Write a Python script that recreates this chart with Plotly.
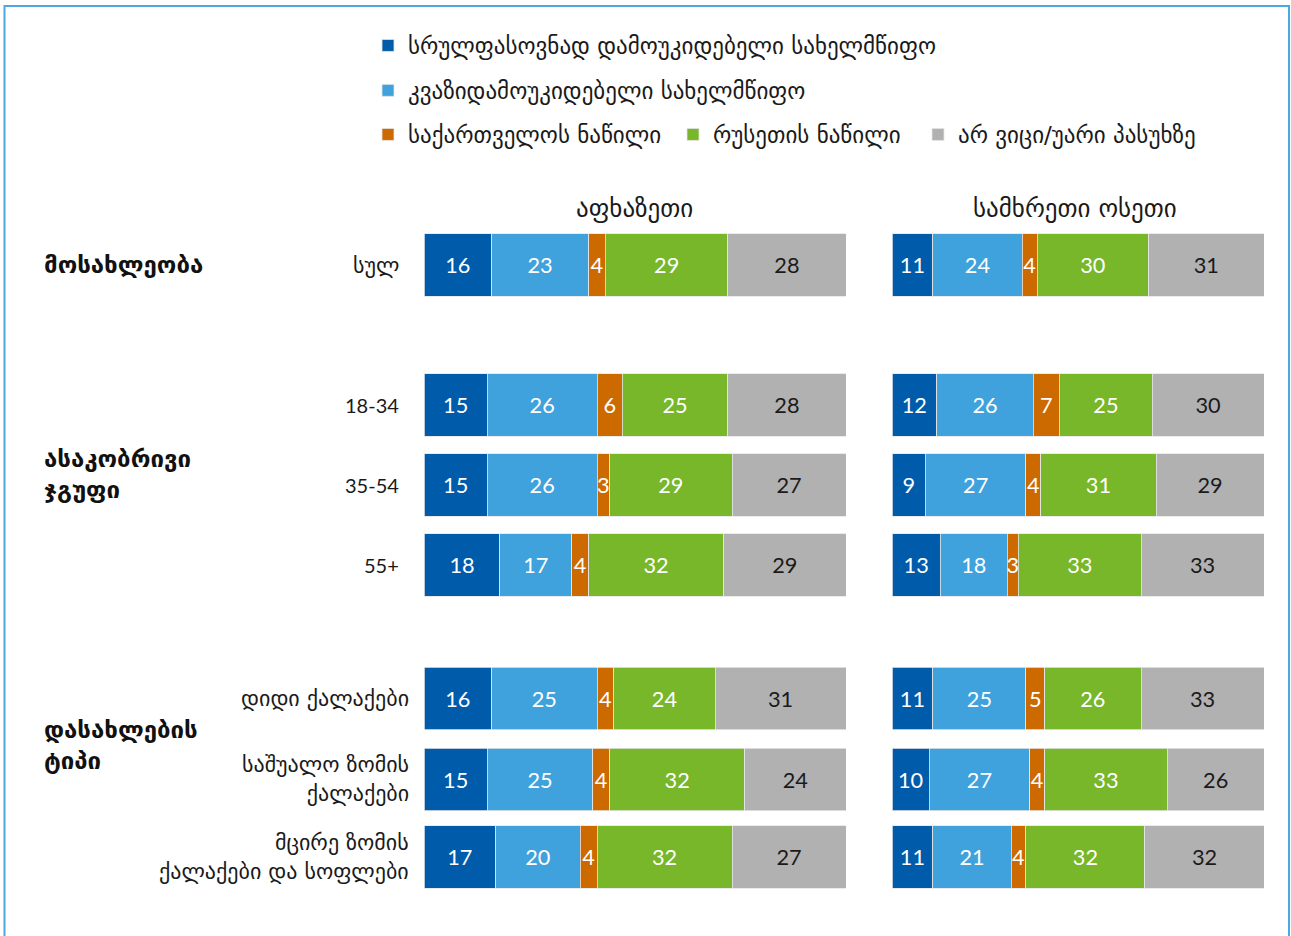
import plotly.graph_objects as go

# სერიები (ლეგენდა)
series = ["სრულფასოვნად დამოუკიდებელი სახელმწიფო",
          "კვაზიდამოუკიდებელი სახელმწიფო",
          "საქართველოს ნაწილი",
          "რუსეთის ნაწილი",
          "არ ვიცი/უარი პასუხზე"]
colors = ["#005BAA", "#3FA2DC", "#CC6A00", "#78B62A", "#B1B1B1"]
text_colors = ["white", "white", "white", "white", "#1a1a1a"]

rows = ["სულ", "18-34", "35-54", "55+",
        "დიდი ქალაქები", "საშუალო ზომის<br>ქალაქები", "მცირე ზომის<br>ქალაქები და სოფლები"]
row_pos = [0, 1.75, 2.75, 3.75, 5.42, 6.43, 7.4]

panels = ["აფხაზეთი", "სამხრეთი ოსეთი"]

# აფხაზეთი: რიგები x სერიები
abkhazia = [[16, 23, 4, 29, 28],
            [15, 26, 6, 25, 28],
            [15, 26, 3, 29, 27],
            [18, 17, 4, 32, 29],
            [16, 25, 4, 24, 31],
            [15, 25, 4, 32, 24],
            [17, 20, 4, 32, 27]]
# სამხრეთი ოსეთი
ossetia = [[11, 24, 4, 30, 31],
           [12, 26, 7, 25, 30],
           [9, 27, 4, 31, 29],
           [13, 18, 3, 33, 33],
           [11, 25, 5, 26, 33],
           [10, 27, 4, 33, 26],
           [11, 21, 4, 32, 32]]

groups = [("მოსახლეობა", 0.0), ("ასაკობრივი<br>ჯგუფი", 2.62), ("დასახლების<br>ტიპი", 6.0)]

W, H = 1291, 936
FONT = "DejaVu Sans"
NUMFONT = "Lato, DejaVu Sans"

# ლეგენდის განლაგება: პირველი ორი ვერტიკალურად, დანარჩენი სამი ერთ ხაზზე
legend_ids = ["legend", "legend", "legend2", "legend3", "legend4"]

fig = go.Figure()
for p, (data, xa) in enumerate([(abkhazia, "x"), (ossetia, "x2")]):
    for i, name in enumerate(series):
        vals = [r[i] for r in data]
        fig.add_trace(go.Bar(
            x=vals, y=row_pos, orientation="h", name=name,
            xaxis=xa, yaxis="y", width=0.78,
            marker=dict(color=colors[i], line=dict(color="#e6e6e6", width=0.8)),
            text=[str(v) for v in vals], textposition="inside",
            insidetextanchor="middle", textangle=0,
            textfont=dict(family=NUMFONT, size=22, color=text_colors[i]),
            showlegend=(p == 0),
            legend=legend_ids[i],
            legendgroup=f"g{i}",
            hoverinfo="skip",
        ))

ann = []
for name, xc in zip(panels, [634, 1075]):
    ann.append(dict(text=name, x=xc / W, y=1 - 209 / H, xref="paper", yref="paper",
                    showarrow=False, xanchor="center", yanchor="middle",
                    font=dict(family=FONT, size=25, color="#1a1a1a")))
for k, (lab, yp) in enumerate(zip(rows, row_pos)):
    xr = 401 if k < 4 else 411
    fnt = dict(family=NUMFONT, size=20, color="#1a1a1a") if 0 < k < 4 else \
        dict(family=FONT, size=22, color="#1a1a1a")
    ann.append(dict(text=lab, x=xr / W, y=yp, xref="paper", yref="y",
                    showarrow=False, xanchor="right", yanchor="middle", align="right",
                    font=fnt))
for lab, yp in groups:
    ann.append(dict(text="<b>" + lab + "</b>", x=42 / W, y=yp, xref="paper", yref="y",
                    showarrow=False, xanchor="left", yanchor="middle", align="left",
                    font=dict(family=FONT, size=24, color="#111111")))

y0 = -265 / 80
y1 = (H - 265) / 80

leg_font = dict(family=FONT, size=23, color="#1a1a1a")


def leg(xpx, ypx, **kw):
    return dict(x=xpx / W, y=1 - ypx / H, xanchor="left", yanchor="top",
                font=leg_font, bgcolor="rgba(0,0,0,0)", **kw)


fig.update_layout(
    width=W, height=H, margin=dict(l=0, r=0, t=0, b=0),
    paper_bgcolor="white", plot_bgcolor="white",
    barmode="stack",
    uniformtext=dict(minsize=21, mode="show"),
    xaxis=dict(domain=[424 / W, 846 / W], range=[0, 100], visible=False, fixedrange=True),
    xaxis2=dict(domain=[892 / W, 1264 / W], range=[0, 100], visible=False, anchor="y", fixedrange=True),
    yaxis=dict(range=[y1, y0], visible=False, fixedrange=True),
    legend=leg(368, 24, orientation="v", traceorder="grouped", tracegroupgap=12),
    legend2=leg(368, 113, orientation="h"),
    legend3=leg(673, 113, orientation="h"),
    legend4=leg(918, 113, orientation="h"),
    annotations=ann,
    shapes=[dict(type="rect", xref="paper", yref="paper",
                 x0=4.5 / W, x1=1289 / W, y0=-0.02, y1=1 - 6 / H,
                 line=dict(color="#4DA8E0", width=2))],
)

fig.write_html("out.html", config={"displayModeBar": False},
               post_script="document.body.style.margin='0';")
